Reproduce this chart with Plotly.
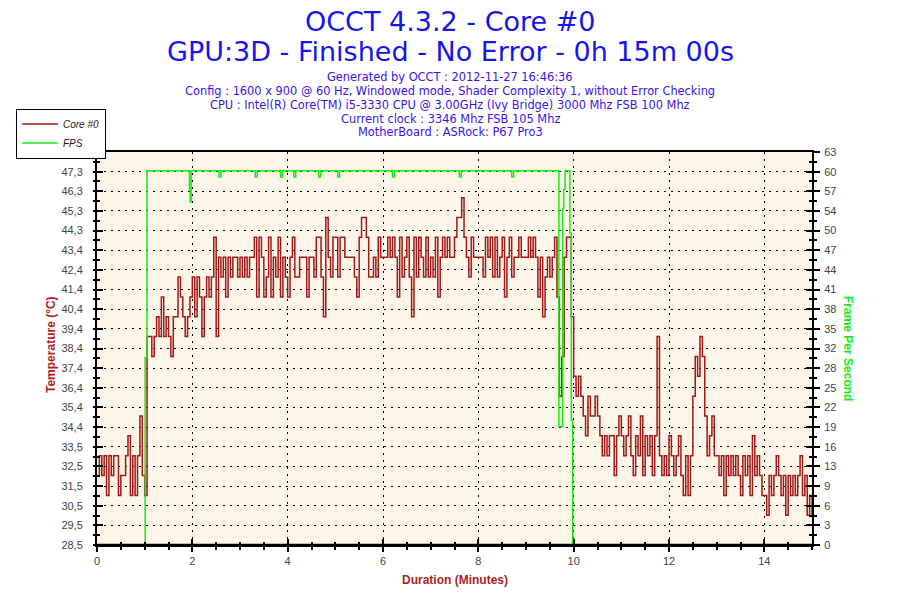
import plotly.graph_objects as go

# Core #0 temperature (deg C), one reading every 0.05 min
core0_temp = [
    # 0 - 1 min
    32, 33, 32, 33, 31, 33, 32, 33, 33, 31, 32, 32, 33, 34, 31, 33, 31, 33, 35, 32,
    # 1 - 2
    31, 39, 39, 38, 39, 40, 39, 41, 39, 40, 39, 38, 40, 40, 42, 41, 40, 39, 40, 41,
    # 2 - 3
    42, 40, 42, 41, 39, 41, 42, 41, 42, 44, 39, 43, 42, 43, 41, 43, 42, 43, 43, 42,
    # 3 - 4
    43, 42, 43, 42, 43, 43, 44, 41, 44, 43, 41, 42, 44, 41, 43, 42, 44, 41, 43, 42,
    # 4 - 5
    41, 43, 44, 42, 42, 43, 43, 43, 41, 43, 43, 42, 44, 44, 42, 40, 45, 43, 42, 44,
    # 5 - 6
    44, 42, 44, 44, 43, 43, 43, 43, 42, 41, 44, 45, 45, 44, 42, 42, 43, 42, 44, 43,
    # 6 - 7
    43, 43, 44, 43, 44, 43, 41, 44, 42, 43, 44, 42, 40, 44, 42, 44, 43, 42, 44, 42,
    # 7 - 8
    43, 42, 44, 41, 43, 44, 43, 44, 43, 43, 44, 45, 45, 46, 44, 43, 42, 44, 43, 43,
    # 8 - 9
    43, 43, 42, 44, 43, 44, 42, 44, 42, 43, 44, 41, 43, 44, 42, 43, 43, 44, 43, 43,
    # 9 - 10
    43, 44, 43, 44, 43, 41, 43, 40, 42, 43, 42, 43, 44, 41, 36, 38, 43, 44, 44, 40,
    # 10 - 11
    37, 36, 37, 36, 35, 34, 36, 35, 35, 36, 35, 34, 33, 34, 33, 34, 34, 32, 34, 35,
    # 11 - 12
    34, 33, 34, 35, 33, 32, 34, 33, 35, 32, 34, 33, 34, 32, 34, 39, 33, 32, 33, 32,
    # 12 - 13
    34, 33, 32, 33, 34, 32, 31, 33, 31, 33, 36, 38, 37, 39, 38, 35, 33, 34, 35, 33,
    # 13 - 14
    33, 32, 33, 31, 33, 32, 33, 32, 33, 32, 31, 33, 32, 33, 31, 34, 32, 33, 32, 31,
    # 14 - 15
    31, 30, 32, 31, 32, 33, 32, 31, 32, 30, 32, 31, 32, 31, 32, 33, 31, 32, 30, 31,
    30,
]
sample_step = 0.05  # minutes
temp_minutes = [i * sample_step for i in range(len(core0_temp))]

# FPS is a step signal, so keep the change points only
fps_minutes = [0, 1.01, 1.05, 1.94, 1.955, 1.975, 2.56, 2.6, 3.32, 3.36, 3.85, 3.89,
               4.13, 4.17, 4.65, 4.69, 5.05, 5.09, 6.2, 6.24, 7.6, 7.64, 8.7, 8.74,
               9.69, 9.77, 9.79, 9.82, 9.92, 9.95, 9.98, 15]
fps_value = [0, 30, 60, 57, 55, 60, 59, 60, 59, 60, 59, 60,
             59, 60, 59, 60, 59, 60, 59, 60, 59, 60, 59, 60,
             19, 54, 57, 60, 50, 20, 0, 0]

temp_ticks = [28.5 + 0.99 * i for i in range(21)]
temp_labels = ["28,5", "29,5", "30,5", "31,5", "32,5", "33,5", "34,4", "35,4", "36,4",
               "37,4", "38,4", "39,4", "40,4", "41,4", "42,4", "43,4", "44,3", "45,3",
               "46,3", "47,3", "48,3"]
fps_ticks = [3.15 * i for i in range(21)]
fps_labels = ["0", "3", "6", "9", "13", "16", "19", "22", "25", "28", "32", "35", "38",
              "41", "44", "47", "50", "54", "57", "60", "63"]

title_lines = ["OCCT 4.3.2 - Core #0", "GPU:3D - Finished - No Error - 0h 15m 00s"]
info_lines = [
    "Generated by OCCT : 2012-11-27 16:46:36",
    "Config : 1600 x 900 @ 60 Hz, Windowed mode, Shader Complexity 1, without Error Checking",
    "CPU : Intel(R) Core(TM) i5-3330 CPU @ 3.00GHz (Ivy Bridge) 3000 Mhz FSB 100 Mhz",
    "Current clock : 3346 Mhz FSB 105 Mhz",
    "MotherBoard : ASRock: P67 Pro3",
]

TEMP_COLOR = "#A11818"
FPS_COLOR = "#14EE14"
TITLE_RED = "#B01E1E"

# plot area in pixels, used to place the text around it
L, R, T, B = 97, 812, 152, 545


def px(x):
    return (x - L) / (R - L)


def py(y):
    return (B - y) / (B - T)


fig = go.Figure()
fig.add_trace(go.Scatter(x=temp_minutes, y=core0_temp, name="Core #0", mode="lines",
                         line=dict(color=TEMP_COLOR, width=1.5, shape="hv"),
                         xaxis="x", yaxis="y"))
fig.add_trace(go.Scatter(x=fps_minutes, y=fps_value, name="FPS", mode="lines",
                         line=dict(color=FPS_COLOR, width=1.5, shape="hv"),
                         xaxis="x", yaxis="y2"))
# empty traces so the overlay axes (inner half of the tick marks) get drawn
fig.add_trace(go.Scatter(x=[None], y=[None], xaxis="x2", yaxis="y3",
                         showlegend=False, hoverinfo="skip"))
fig.add_trace(go.Scatter(x=[None], y=[None], xaxis="x2", yaxis="y4",
                         showlegend=False, hoverinfo="skip"))

tick_font = dict(family="Liberation Sans, Arial", size=11, color="#444444")
grid = dict(showgrid=True, gridcolor="black", gridwidth=1, griddash="2px,5px")

fig.update_layout(
    width=900, height=600,
    margin=dict(l=L, r=900 - R, t=T, b=600 - B, pad=0),
    paper_bgcolor="white", plot_bgcolor="#FDF6E8",
    font=dict(family="DejaVu Sans"),
    showlegend=True,
    legend=dict(x=px(16), y=py(133.5), xanchor="left", yanchor="middle",
                bgcolor="white", bordercolor="black", borderwidth=1,
                font=dict(family="Liberation Sans, Arial", size=10, color="#222222",
                          style="italic"),
                itemwidth=36, tracegroupgap=0),
    xaxis=dict(range=[0, 15], tickmode="linear", tick0=0, dtick=2,
               ticks="outside", ticklen=5, tickwidth=1.5, tickcolor="black",
               minor=dict(tickmode="linear", tick0=0, dtick=0.5, ticks="outside",
                          ticklen=3, tickwidth=1.5, tickcolor="black", showgrid=False),
               showline=True, linecolor="black", linewidth=2, mirror=True,
               zeroline=False, tickfont=tick_font, ticklabelstandoff=0, **grid),
    xaxis2=dict(range=[0, 15], overlaying="x", anchor="y3", side="bottom",
                tickmode="linear", tick0=0, dtick=2, ticks="inside", ticklen=6,
                tickwidth=1.5, tickcolor="black",
                minor=dict(tickmode="linear", tick0=0, dtick=0.5, ticks="inside",
                           ticklen=3, tickwidth=1.5, tickcolor="black", showgrid=False),
                showticklabels=False, showgrid=False, zeroline=False, showline=False),
    yaxis=dict(range=[28.5, 48.3], tickmode="array", tickvals=temp_ticks,
               ticktext=temp_labels, ticks="outside", ticklen=2, tickwidth=1.5,
               tickcolor="black",
               minor=dict(tickmode="linear", tick0=28.5, dtick=0.495, ticks="outside",
                          ticklen=2, tickwidth=1.5, tickcolor="black", showgrid=False),
               showline=True, linecolor="black", linewidth=2, zeroline=False,
               tickfont=tick_font, ticklabelstandoff=8, **grid),
    yaxis2=dict(range=[0, 63], overlaying="y", side="right", anchor="x",
                tickmode="array", tickvals=fps_ticks, ticktext=fps_labels,
                ticks="outside", ticklen=6, tickwidth=1.5, tickcolor="black",
                minor=dict(tickmode="linear", tick0=0, dtick=1.575, ticks="outside",
                           ticklen=3, tickwidth=1.5, tickcolor="black", showgrid=False),
                showline=True, linecolor="black", linewidth=2, zeroline=False,
                showgrid=False, tickfont=tick_font, ticklabelstandoff=2),
    yaxis3=dict(range=[28.5, 48.3], overlaying="y", side="left", anchor="x2",
                tickmode="array", tickvals=temp_ticks, ticks="inside", ticklen=6,
                tickwidth=1.5, tickcolor="black",
                minor=dict(tickmode="linear", tick0=28.5, dtick=0.495, ticks="inside",
                           ticklen=3, tickwidth=1.5, tickcolor="black", showgrid=False),
                showticklabels=False, showgrid=False, showline=False, zeroline=False),
    yaxis4=dict(range=[0, 63], overlaying="y", side="right", anchor="x2",
                tickmode="array", tickvals=fps_ticks, ticks="inside", ticklen=6,
                tickwidth=1.5, tickcolor="black",
                minor=dict(tickmode="linear", tick0=0, dtick=1.575, ticks="inside",
                           ticklen=3, tickwidth=1.5, tickcolor="black", showgrid=False),
                showticklabels=False, showgrid=False, showline=False, zeroline=False),
)

# bottom frame edge redrawn above the traces, so FPS = 0 sits under it as in OCCT
fig.add_shape(type="line", xref="paper", yref="paper", x0=0, x1=1, y0=0, y1=0,
              line=dict(color="black", width=2.5), layer="above")

notes = []
for text, y in zip(title_lines, [21.5, 51.5]):
    notes.append(dict(text=text, x=px(450), y=py(y), font=dict(size=27, color="#1515EE")))
for text, y in zip(info_lines, [77.3, 90.8, 104.8, 118.6, 132.4]):
    notes.append(dict(text=text, x=px(450), y=py(y), font=dict(size=11.4, color="#3A12EE")))
notes.append(dict(text="<b>Duration (Minutes)</b>", x=px(455), y=py(580),
                  font=dict(family="Liberation Sans, Arial", size=12, color=TITLE_RED)))
notes.append(dict(text="<b>Temperature (°C)</b>", x=px(51), y=py(345), textangle=-90,
                  font=dict(family="Liberation Sans, Arial", size=12, color=TITLE_RED)))
notes.append(dict(text="<b>Frame Per Second</b>", x=px(848), y=py(348), textangle=90,
                  font=dict(family="Liberation Sans, Arial", size=12, color=FPS_COLOR)))
for n in notes:
    n.update(xref="paper", yref="paper", showarrow=False,
             xanchor="center", yanchor="middle")
fig.update_layout(annotations=notes)

# the page puts an 8px margin round the figure; drop it so pixels line up
fig.write_html("out.html", config={"displayModeBar": False},
               post_script="document.body.style.margin='0px';")
